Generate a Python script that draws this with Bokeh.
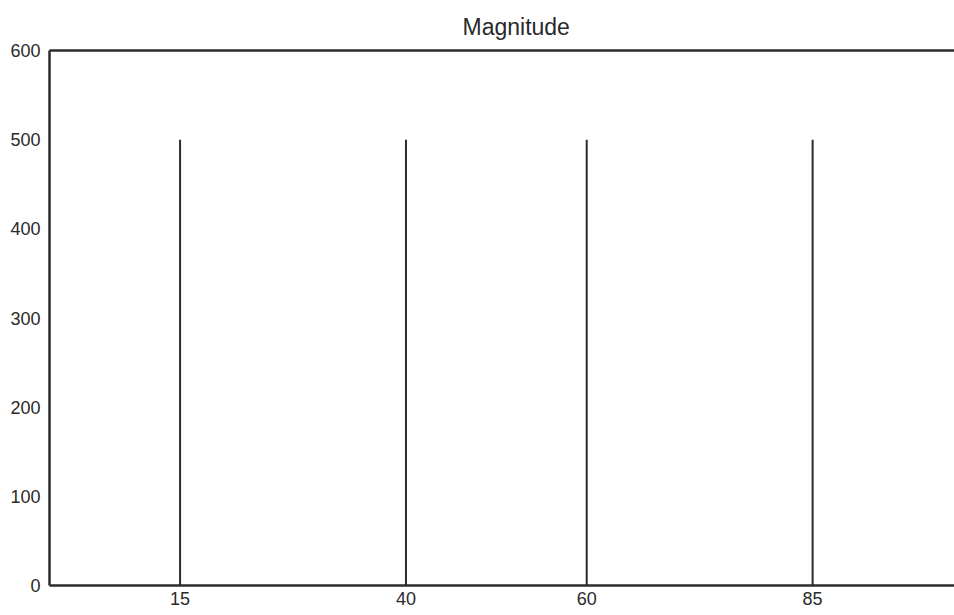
from bokeh.plotting import figure
from bokeh.models import Range1d, FixedTicker, LinearAxis
from bokeh.embed import file_html
from bokeh.resources import INLINE

# Data
freqs = [15, 40, 60, 85]
magnitudes = [500, 500, 500, 500]
x_ticks = [15, 40, 60, 85]
y_ticks = [0, 100, 200, 300, 400, 500, 600]

LINE = "#2b2b2b"

p = figure(width=954, height=615, output_backend="svg", toolbar_location=None,
           x_range=Range1d(0.55, 100.7), y_range=Range1d(0, 600),
           min_border_left=49, min_border_right=0, min_border_top=50, min_border_bottom=30,
           title="Magnitude")

p.title.align = "left"
p.title.offset = 413
p.title.text_font = "Liberation Sans"
p.title.text_font_size = "23px"
p.title.text_font_style = "normal"
p.title.text_color = "#2a2a2a"
p.title.standoff = 22

p.segment(x0=freqs, y0=[0]*len(freqs), x1=freqs, y1=magnitudes,
          line_color=LINE, line_width=2)

p.xgrid.visible = False
p.ygrid.visible = False
p.outline_line_color = None

bottom_axis = p.below[0]
left_axis = p.left[0]

top_axis = LinearAxis(ticker=FixedTicker(ticks=[]))
p.add_layout(top_axis, "above")

for ax in (bottom_axis, left_axis, top_axis):
    ax.axis_line_color = LINE
    ax.axis_line_width = 2.5
    ax.major_tick_line_color = None
    ax.minor_tick_line_color = None
    ax.major_tick_out = 0
    ax.minor_tick_out = 0
    ax.major_tick_in = 0
    ax.minor_tick_in = 0
    ax.major_label_text_font = "Liberation Sans"
    ax.major_label_text_font_size = "18px"
    ax.major_label_text_color = "#2a2a2a"

top_axis.major_label_standoff = 0

bottom_axis.ticker = FixedTicker(ticks=x_ticks)
left_axis.ticker = FixedTicker(ticks=y_ticks)
bottom_axis.major_label_standoff = 6
left_axis.major_label_standoff = 9

p.background_fill_color = "white"
p.border_fill_color = "white"

open("out.html", "w").write(file_html(p, INLINE))
